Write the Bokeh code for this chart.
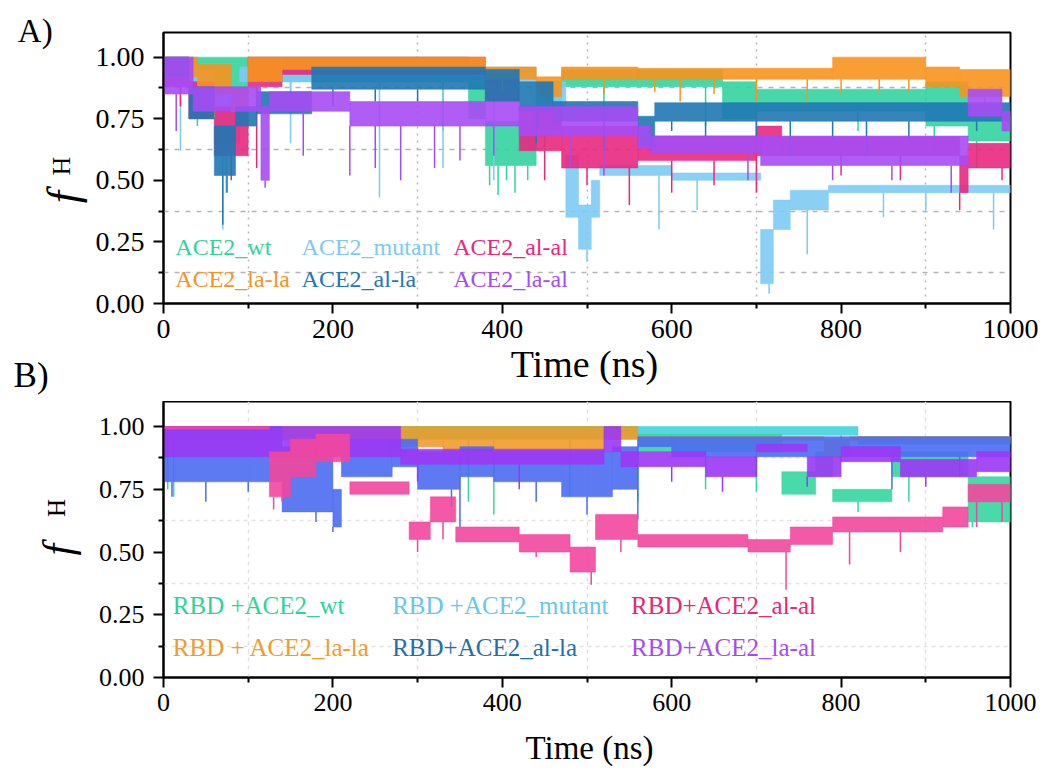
import numpy as np
from bokeh.plotting import figure
from bokeh.layouts import column
from bokeh.models import FixedTicker, Label, NumeralTickFormatter, Range1d
from bokeh.core.properties import value
from bokeh.embed import file_html
from bokeh.resources import INLINE

# ---------------- axis ticks ----------------
X_TICKS = [0, 200, 400, 600, 800, 1000]
X_MINOR = [100, 300, 500, 700, 900]
Y_TICKS = [0.0, 0.25, 0.5, 0.75, 1.0]
Y_MINOR = [0.125, 0.375, 0.625, 0.875]

# ---------------- Panel A data (band breakpoints in ns, upper / lower envelope) ----------------
A_wt_t = [0, 30, 100, 360, 380, 440, 470, 660, 700, 900, 950, 1000]
A_wt_hi = [1.00, 1.00, 1.00, 0.92, 0.74, 0.90, 0.95, 0.90, 0.87, 0.90, 0.76]
A_wt_lo = [0.92, 0.85, 0.90, 0.75, 0.56, 0.70, 0.88, 0.75, 0.78, 0.72, 0.66]
A_wt_spk_t = [40, 150, 330, 385, 395, 405, 415, 430, 450, 520, 640, 700, 820, 910, 960]
A_wt_spk_v = [0.72, 0.80, 0.70, 0.48, 0.44, 0.50, 0.45, 0.50, 0.62, 0.75, 0.72, 0.60, 0.70, 0.60, 0.55]

A_mut_t = [0, 30, 60, 90, 440, 475, 490, 505, 515, 600, 705, 720, 740, 785, 1000]
A_mut_hi = [1.00, 0.95, 0.85, 0.96, 0.90, 0.60, 0.40, 0.50, 0.56, 0.53, 0.30, 0.42, 0.46, 0.48]
A_mut_lo = [0.88, 0.75, 0.65, 0.90, 0.75, 0.35, 0.22, 0.35, 0.52, 0.50, 0.08, 0.30, 0.38, 0.45]
A_mut_spk_t = [20, 70, 74, 150, 255, 330, 390, 500, 585, 630, 715, 760, 850, 900, 980]
A_mut_spk_v = [0.62, 0.30, 0.45, 0.65, 0.43, 0.55, 0.50, 0.17, 0.30, 0.38, 0.04, 0.20, 0.35, 0.38, 0.30]

A_alal_t = [0, 30, 60, 100, 140, 380, 420, 470, 560, 700, 730, 940, 950, 1000]
A_alal_hi = [1.00, 0.90, 0.80, 1.00, 1.00, 0.95, 0.80, 0.72, 0.68, 0.72, 0.675, 0.60, 0.65]
A_alal_lo = [0.88, 0.75, 0.60, 0.88, 0.93, 0.82, 0.62, 0.55, 0.58, 0.60, 0.60, 0.45, 0.55]
A_alal_spk_t = [20, 80, 110, 450, 500, 550, 600, 650, 700, 800, 870, 940, 990]
A_alal_spk_v = [0.80, 0.50, 0.55, 0.50, 0.48, 0.40, 0.45, 0.48, 0.45, 0.52, 0.50, 0.38, 0.50]

A_lala_t = [0, 40, 80, 100, 140, 380, 440, 470, 560, 790, 900, 940, 1000]
A_lala_hi = [1.00, 0.97, 0.87, 1.00, 1.00, 0.96, 0.92, 0.96, 0.955, 1.00, 0.96, 0.95]
A_lala_lo = [0.92, 0.85, 0.78, 0.90, 0.95, 0.91, 0.84, 0.91, 0.91, 0.91, 0.88, 0.84]
A_lala_spk_t = [60, 400, 420, 455, 520, 580, 610, 650, 700, 760, 800, 845, 880, 970]
A_lala_spk_v = [0.75, 0.86, 0.85, 0.82, 0.85, 0.86, 0.82, 0.85, 0.82, 0.80, 0.85, 0.85, 0.86, 0.80]

A_alla_t = [0, 30, 60, 85, 110, 175, 380, 420, 460, 560, 580, 1000]
A_alla_hi = [1.00, 0.88, 0.72, 0.80, 0.86, 0.96, 0.95, 0.90, 0.82, 0.76, 0.815]
A_alla_lo = [0.92, 0.75, 0.52, 0.72, 0.77, 0.87, 0.82, 0.78, 0.74, 0.64, 0.74]
A_alla_spk_t = [70, 75, 200, 250, 300, 440, 520, 600, 640, 700, 740, 790, 830, 880, 960]
A_alla_spk_v = [0.32, 0.45, 0.80, 0.82, 0.82, 0.65, 0.62, 0.70, 0.68, 0.65, 0.60, 0.66, 0.60, 0.66, 0.70]

A_laal_t = [0, 35, 115, 125, 220, 420, 560, 575, 705, 950, 990, 1000]
A_laal_hi = [1.00, 0.88, 0.80, 0.86, 0.82, 0.80, 0.72, 0.68, 0.68, 0.87, 0.78]
A_laal_lo = [0.85, 0.78, 0.50, 0.78, 0.72, 0.68, 0.63, 0.61, 0.56, 0.76, 0.70]
A_laal_spk_t = [15, 120, 165, 220, 250, 280, 320, 350, 390, 480, 520, 690, 790, 860, 930]
A_laal_spk_v = [0.70, 0.47, 0.60, 0.52, 0.55, 0.50, 0.55, 0.58, 0.60, 0.55, 0.52, 0.50, 0.50, 0.50, 0.45]

# ---------------- Panel B data ----------------
B_wt_t = [0, 20, 560, 730, 770, 790, 860, 950, 1000]
B_wt_hi = [1.00, 1.00, 0.97, 0.82, 0.90, 0.75, 0.90, 0.80]
B_wt_lo = [0.95, 0.95, 0.90, 0.73, 0.80, 0.70, 0.80, 0.62]
B_wt_spk_t = [5, 12, 360, 390, 480, 560, 640, 700, 820, 880, 955, 985]
B_wt_spk_v = [0.75, 0.72, 0.70, 0.65, 0.72, 0.70, 0.75, 0.74, 0.66, 0.70, 0.60, 0.62]

B_mut_t = [0, 200, 220, 540, 820, 1000]
B_mut_hi = [1.00, 1.00, 1.00, 1.00, 0.96]
B_mut_lo = [0.95, 0.97, 0.95, 0.965, 0.93]
B_mut_spk_t = [560, 640, 720, 800]
B_mut_spk_v = [0.90, 0.91, 0.90, 0.91]

B_lala_t = [0, 270, 330, 520, 560, 780, 810, 1000]
B_lala_hi = [1.00, 1.00, 1.00, 1.00, 0.96, 0.95, 0.96]
B_lala_lo = [0.95, 0.92, 0.90, 0.95, 0.945, 0.88, 0.945]
B_lala_spk_t = [300, 330, 420, 480, 800]
B_lala_spk_v = [0.88, 0.86, 0.88, 0.87, 0.86]

B_alla_t = [0, 140, 200, 210, 270, 300, 350, 390, 470, 530, 560, 600, 1000]
B_alla_hi = [1.00, 0.92, 0.75, 0.95, 0.95, 0.90, 0.92, 0.90, 0.90, 0.92, 0.96, 0.96]
B_alla_lo = [0.78, 0.66, 0.60, 0.80, 0.84, 0.75, 0.80, 0.78, 0.72, 0.75, 0.92, 0.88]
B_alla_spk_t = [10, 50, 100, 180, 200, 340, 350, 440, 500, 560, 700, 860, 940]
B_alla_spk_v = [0.72, 0.70, 0.74, 0.62, 0.58, 0.68, 0.60, 0.70, 0.65, 0.63, 0.80, 0.75, 0.80]

B_laal_t = [0, 280, 520, 540, 640, 700, 760, 800, 870, 960, 1000]
B_laal_hi = [1.00, 0.91, 1.00, 0.90, 0.88, 0.93, 0.88, 0.92, 0.87, 0.90]
B_laal_lo = [0.88, 0.85, 0.90, 0.84, 0.80, 0.90, 0.80, 0.86, 0.80, 0.82]
B_laal_spk_t = [300, 420, 600, 660, 760, 900]
B_laal_spk_v = [0.78, 0.75, 0.78, 0.74, 0.76, 0.76]

B_alal_t = [0, 125, 150, 180, 220, 290, 315, 345, 420, 480, 510, 560, 690, 740, 790, 920, 950, 1000]
B_alal_hi = [1.00, 0.90, 0.95, 0.97, 0.78, 0.62, 0.72, 0.60, 0.57, 0.52, 0.65, 0.57, 0.55, 0.60, 0.64, 0.68, 0.77]
B_alal_lo = [0.99, 0.72, 0.80, 0.86, 0.73, 0.55, 0.62, 0.54, 0.50, 0.42, 0.55, 0.52, 0.50, 0.53, 0.58, 0.60, 0.70]
B_alal_spk_t = [130, 140, 300, 330, 440, 475, 505, 540, 735, 810, 870, 960, 990]
B_alal_spk_v = [0.67, 0.70, 0.50, 0.55, 0.48, 0.50, 0.37, 0.50, 0.35, 0.45, 0.50, 0.60, 0.62]

# ---------------- names / colours ----------------
A_names = ["ACE2_wt", "ACE2_mutant", "ACE2_al-al", "ACE2_la-la", "ACE2_al-la", "ACE2_la-al"]
B_names = ["RBD +ACE2_wt", "RBD +ACE2_mutant", "RBD+ACE2_al-al",
           "RBD + ACE2_la-la", "RBD+ACE2_al-la", "RBD+ACE2_la-al"]

A_colors = {"wt": "#33D39E", "mut": "#7CCBF3", "alal": "#E8287E",
            "lala": "#F7941E", "alla": "#1F78B4", "laal": "#A64BF4"}
B_line_colors = {"wt": "#35D6A0", "mut": "#44D4DC", "alal": "#F2479C",
                 "lala": "#F29B2B", "alla": "#4B6CF2", "laal": "#9B37F4"}
B_text_colors = {"wt": "#2ED39A", "mut": "#66C6EE", "alal": "#E62678",
                 "lala": "#F29B2B", "alla": "#1F6FAF", "laal": "#A64BF4"}

SERIF = "Liberation Serif"


def make_fig(width, height, left, right, top, bottom, tick_size, grid_color, grid_dash_x, grid_dash_y):
    p = figure(width=width, height=height, output_backend="svg", toolbar_location=None,
               x_range=Range1d(0, 1000), y_range=Range1d(0, 1.1), title=None,
               min_border_left=left, min_border_right=right,
               min_border_top=top, min_border_bottom=bottom)
    p.background_fill_color = "white"
    p.border_fill_color = "white"
    p.outline_line_color = "black"
    p.outline_line_width = 2
    p.outline_line_alpha = 1
    p.xaxis.ticker = FixedTicker(ticks=X_TICKS, minor_ticks=X_MINOR)
    p.yaxis.ticker = FixedTicker(ticks=Y_TICKS, minor_ticks=Y_MINOR)
    p.yaxis.formatter = NumeralTickFormatter(format="0.00")
    for ax in (p.xaxis[0], p.yaxis[0]):
        ax.axis_line_width = 2
        ax.axis_line_color = "black"
        ax.major_tick_line_width = 2
        ax.minor_tick_line_width = 2
        ax.major_tick_out = 10
        ax.major_tick_in = 0
        ax.minor_tick_out = 5
        ax.minor_tick_in = 0
        ax.major_label_text_font = SERIF
        ax.major_label_text_font_size = f"{tick_size}px"
        ax.major_label_text_color = "black"
    p.xaxis[0].major_label_standoff = 6
    p.yaxis[0].major_label_standoff = 9
    p.xgrid.ticker = FixedTicker(ticks=X_MINOR)
    p.ygrid.ticker = FixedTicker(ticks=Y_MINOR)
    p.xgrid.grid_line_color = grid_color
    p.ygrid.grid_line_color = grid_color
    p.xgrid.grid_line_dash = grid_dash_x
    p.ygrid.grid_line_dash = grid_dash_y
    p.xgrid.grid_line_width = 1.5
    p.ygrid.grid_line_width = 1.5
    return p


def draw_series(p, t, hi, lo, spk_t, spk_v, color):
    t = np.asarray(t, dtype=float)
    hi = np.asarray(hi, dtype=float)
    lo = np.asarray(lo, dtype=float)
    p.quad(left=t[:-1], right=t[1:], top=hi, bottom=lo,
           fill_color=color, fill_alpha=0.9, line_color=color, line_width=0.5)
    st = np.asarray(spk_t, dtype=float)
    idx = np.clip(np.searchsorted(t, st, side="right") - 1, 0, len(lo) - 1)
    p.segment(x0=st, y0=lo[idx], x1=st, y1=spk_v, line_color=color, line_width=1.5)


def legend_text(p, x, y, s, color, size):
    p.add_layout(Label(x=x, y=y, text=s, text_color=color, text_font=SERIF,
                       text_font_size=f"{size}px", text_align="left", text_baseline="middle"))


def outer_text(p, x, y, s, size, align="left", angle=0.0, style="normal"):
    # text outside the frame: glyph on the overlay level (not clipped to the frame)
    p.text(x=[x], y=[y], text=[s], text_font=value(SERIF), text_font_size=value(f"{size}px"),
           text_font_style=value(style), text_color="black", text_align=value(align),
           text_baseline=value("alphabetic"), angle=angle, level="overlay")


# ---------------- Panel A ----------------
pA = make_fig(1047, 401, 163, 33, 32, 98, 28, "#b5b5b5", "2 5", "5 6")
draw_series(pA, A_wt_t, A_wt_hi, A_wt_lo, A_wt_spk_t, A_wt_spk_v, A_colors["wt"])
draw_series(pA, A_mut_t, A_mut_hi, A_mut_lo, A_mut_spk_t, A_mut_spk_v, A_colors["mut"])
draw_series(pA, A_alal_t, A_alal_hi, A_alal_lo, A_alal_spk_t, A_alal_spk_v, A_colors["alal"])
draw_series(pA, A_lala_t, A_lala_hi, A_lala_lo, A_lala_spk_t, A_lala_spk_v, A_colors["lala"])
draw_series(pA, A_alla_t, A_alla_hi, A_alla_lo, A_alla_spk_t, A_alla_spk_v, A_colors["alla"])
draw_series(pA, A_laal_t, A_laal_hi, A_laal_lo, A_laal_spk_t, A_laal_spk_v, A_colors["laal"])

a_cols = [14, 163, 342]
a_rows = [0.228, 0.098]
a_keys = [["wt", "mut", "alal"], ["lala", "alla", "laal"]]
a_labels = [A_names[0:3], A_names[3:6]]
for r in range(2):
    for c in range(3):
        legend_text(pA, a_cols[c], a_rows[r], a_labels[r][c], A_colors[a_keys[r][c]], 24)

outer_text(pA, 497, -0.244, "Time (ns)", 38, align="center")
outer_text(pA, -172, 1.107, "A)", 33)
outer_text(pA, -177, -0.293, "B)", 35)
outer_text(pA, -118, 0.407, "f", 44, angle=np.pi / 2, style="italic")
outer_text(pA, -121, 0.52, "H", 26, angle=np.pi / 2)

# ---------------- Panel B ----------------
pB = make_fig(1047, 368, 159, 37, 0, 92, 26, "#e2e2e2", "4 4", "4 4")
draw_series(pB, B_mut_t, B_mut_hi, B_mut_lo, B_mut_spk_t, B_mut_spk_v, B_line_colors["mut"])
draw_series(pB, B_wt_t, B_wt_hi, B_wt_lo, B_wt_spk_t, B_wt_spk_v, B_line_colors["wt"])
draw_series(pB, B_lala_t, B_lala_hi, B_lala_lo, B_lala_spk_t, B_lala_spk_v, B_line_colors["lala"])
draw_series(pB, B_alla_t, B_alla_hi, B_alla_lo, B_alla_spk_t, B_alla_spk_v, B_line_colors["alla"])
draw_series(pB, B_laal_t, B_laal_hi, B_laal_lo, B_laal_spk_t, B_laal_spk_v, B_line_colors["laal"])
draw_series(pB, B_alal_t, B_alal_hi, B_alal_lo, B_alal_spk_t, B_alal_spk_v, B_line_colors["alal"])

b_cols = [11, 270, 552]
b_rows = [0.287, 0.12]
b_keys = [["wt", "mut", "alal"], ["lala", "alla", "laal"]]
b_labels = [B_names[0:3], B_names[3:6]]
for r in range(2):
    for c in range(3):
        legend_text(pB, b_cols[c], b_rows[r], b_labels[r][c], B_text_colors[b_keys[r][c]], 25)

outer_text(pB, 503, -0.279, "Time (ns)", 33, align="center")
outer_text(pB, -125, 0.486, "f", 42, angle=np.pi / 2, style="italic")
outer_text(pB, -126, 0.64, "H", 25, angle=np.pi / 2)

layout = column(pA, pB, spacing=0)
open("out.html", "w").write(file_html(layout, INLINE))
